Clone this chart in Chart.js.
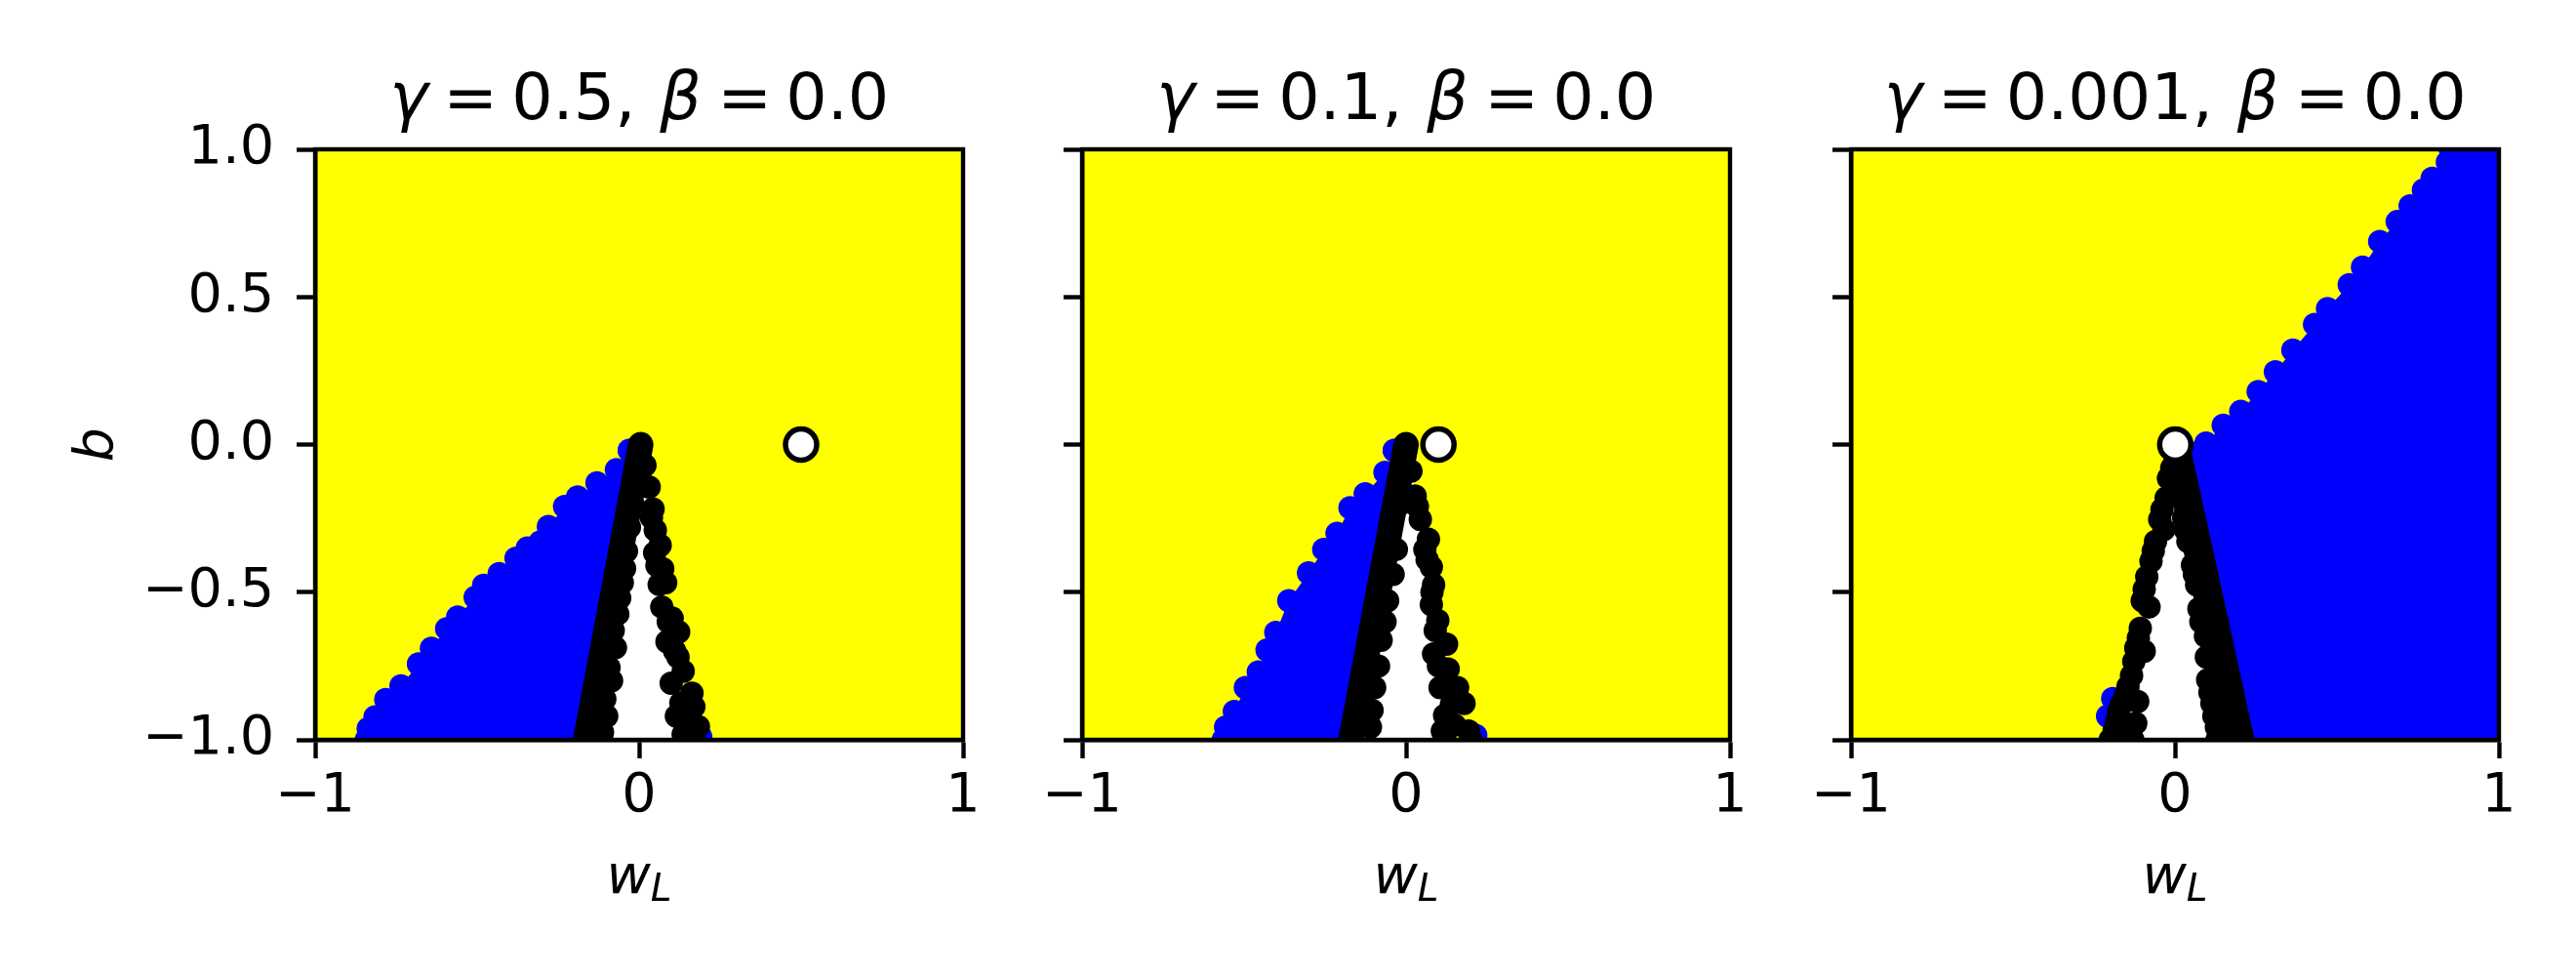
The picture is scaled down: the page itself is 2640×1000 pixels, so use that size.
<!DOCTYPE html>
<html>
<head>
<meta charset="utf-8">
<script src="https://cdn.jsdelivr.net/npm/chart.js@4.4.1/dist/chart.umd.min.js"></script>
<style>
  html, body { margin: 0; padding: 0; background: #fff; }
  #wrap { position: relative; width: 2640px; height: 1000px; }
  canvas { position: absolute; top: 0; }
</style>
</head>
<body>
<div id="wrap">
  <canvas id="c0" width="1048" height="1000" style="left:0px"></canvas>
  <canvas id="c1" width="788" height="1000" style="left:1048px"></canvas>
  <canvas id="c2" width="804" height="1000" style="left:1836px"></canvas>
</div>
<script>
// title values and the reference point of each panel
const gammaLabels = ['0.5', '0.1', '0.001'];
const betaLabels = ['0.0', '0.0', '0.0'];
const refX = [0.5, 0.1, 0.001];
const refY = [0.0, 0.0, 0.0];

// the yellow points cover the whole square
const yellowArea = [[-1, -1], [-1, 1], [1, 1], [1, -1], [-1, -1]];

// panel 1 (gamma = 0.5)
const blue1 = [[-0.03, -0.02], [-0.07, -0.085], [-0.13, -0.13], [-0.19, -0.178], [-0.23, -0.21], [-0.28, -0.278],
  [-0.305, -0.33], [-0.345, -0.35], [-0.38, -0.385], [-0.432, -0.437], [-0.48, -0.477], [-0.506, -0.517],
  [-0.56, -0.584], [-0.594, -0.624], [-0.641, -0.69], [-0.681, -0.743], [-0.735, -0.817], [-0.782, -0.864],
  [-0.815, -0.922], [-0.836, -0.962], [-0.842, -1.0], [-0.165, -1.0], [-0.03, -0.02]];
const white1 = [[0.005, 0.0], [0.03, -0.15], [0.07, -0.45], [0.14, -1.0], [-0.165, -1.0], [0.005, 0.0]];
const edge1 = [[0.005, 0.0], [-0.165, -1.0]];
const dots1 = [[0.005, -0.005], [0.018, -0.07], [0.031, -0.144], [0.043, -0.218], [0.038, -0.247], [0.05, -0.29],
  [0.065, -0.341], [0.048, -0.367], [0.055, -0.41], [0.073, -0.421], [0.082, -0.468], [0.062, -0.474],
  [0.07, -0.55], [0.102, -0.588], [0.09, -0.6], [0.122, -0.635], [0.086, -0.668], [0.11, -0.7], [0.12, -0.72],
  [0.136, -0.768], [0.099, -0.808], [0.163, -0.842], [0.129, -0.875], [0.169, -0.888], [0.115, -0.92],
  [0.149, -0.942], [0.183, -0.955], [0.136, -0.982], [0.17, -1.0], [0.14, -1.0],
  [-0.02, -0.2], [-0.03, -0.28], [-0.039, -0.361], [-0.045, -0.42], [-0.052, -0.468], [-0.06, -0.52],
  [-0.066, -0.574], [-0.08, -0.63], [-0.073, -0.688], [-0.093, -0.755], [-0.085, -0.8], [-0.106, -0.862],
  [-0.1, -0.92], [-0.113, -0.975], [-0.12, -1.0]];
const blueDots1 = [[0.19, -0.99]];

// panel 2 (gamma = 0.1)
const blue2 = [[-0.036, -0.02], [-0.065, -0.094], [-0.126, -0.167], [-0.173, -0.214], [-0.213, -0.301], [-0.254, -0.355],
  [-0.301, -0.435], [-0.362, -0.529], [-0.402, -0.636], [-0.429, -0.696], [-0.456, -0.77], [-0.496, -0.823],
  [-0.53, -0.904], [-0.557, -0.957], [-0.564, -1.0], [-0.17, -1.0], [-0.036, -0.02]];
const white2 = [[0.005, 0.0], [0.03, -0.17], [0.07, -0.45], [0.13, -1.0], [-0.17, -1.0], [0.005, 0.0]];
const edge2 = [[0.0, 0.0], [-0.17, -1.0]];
const dots2 = [[0.0, -0.005], [0.015, -0.09], [0.028, -0.174], [0.035, -0.21], [0.044, -0.254], [0.069, -0.321],
  [0.058, -0.355], [0.065, -0.39], [0.078, -0.415], [0.085, -0.475], [0.08, -0.5], [0.078, -0.542],
  [0.098, -0.596], [0.09, -0.63], [0.125, -0.676], [0.085, -0.709], [0.1, -0.75], [0.13, -0.76],
  [0.105, -0.823], [0.159, -0.823], [0.179, -0.877], [0.14, -0.88], [0.119, -0.917], [0.15, -0.95],
  [0.193, -0.97], [0.112, -0.97], [0.2, -1.0], [0.12, -1.0],
  [-0.015, -0.2], [-0.03, -0.355], [-0.04, -0.44], [-0.057, -0.529], [-0.065, -0.6], [-0.077, -0.663],
  [-0.085, -0.75], [-0.097, -0.823], [-0.105, -0.9], [-0.11, -0.957]];
const blueDots2 = [[0.215, -0.985]];

// panel 3 (gamma = 0.001)
const blue3 = [[0.01, -0.05], [0.06, -0.03], [0.096, 0.005], [0.149, 0.065], [0.203, 0.112], [0.257, 0.179],
  [0.31, 0.246], [0.364, 0.32], [0.431, 0.407], [0.471, 0.46], [0.538, 0.541], [0.579, 0.601], [0.632, 0.688],
  [0.686, 0.755], [0.726, 0.808], [0.767, 0.862], [0.794, 0.902], [0.841, 0.956], [0.85, 1.0], [1.0, 1.0],
  [1.0, -1.0], [0.2, -1.0], [0.01, -0.05]];
const white3 = [[0.005, -0.05], [0.13, -1.0], [-0.16, -1.0], [0.005, -0.05]];
const edge3 = [[0.01, -0.05], [0.2, -1.0]];
const dots3 = [[0.0, -0.06], [0.015, -0.15], [0.027, -0.248], [0.033, -0.29], [0.04, -0.328], [0.054, -0.408],
  [0.06, -0.44], [0.067, -0.475], [0.074, -0.556], [0.08, -0.6], [0.094, -0.649], [0.097, -0.72],
  [0.101, -0.797], [0.108, -0.84], [0.114, -0.877], [0.12, -0.92], [0.128, -0.957], [0.13, -1.0],
  [-0.01, -0.08], [-0.02, -0.114], [-0.027, -0.181], [-0.04, -0.22], [-0.047, -0.254], [-0.034, -0.288],
  [-0.06, -0.328], [-0.067, -0.36], [-0.074, -0.395], [-0.087, -0.448], [-0.095, -0.49], [-0.101, -0.529],
  [-0.08, -0.55], [-0.107, -0.622], [-0.113, -0.655], [-0.121, -0.689], [-0.095, -0.7], [-0.127, -0.735],
  [-0.134, -0.783], [-0.145, -0.82], [-0.154, -0.85], [-0.115, -0.87], [-0.165, -0.88], [-0.174, -0.904],
  [-0.18, -0.94], [-0.121, -0.944], [-0.188, -0.971], [-0.15, -0.97], [-0.2, -1.0], [-0.13, -1.0]];
const blueDots3 = [[-0.192, -0.86], [-0.208, -0.92]];

const panels = [
  {blue: blue1, white: white1, edge: edge1, dots: dots1, blueDots: blueDots1},
  {blue: blue2, white: white2, edge: edge2, dots: dots2, blueDots: blueDots2},
  {blue: blue3, white: white3, edge: edge3, dots: dots3, blueDots: blueDots3}
];

// where each plot box sits inside its canvas
const boxLeft = [323, 61, 61];
const padRight = [61, 63, 79];
// ink gaps between the pieces of the title, px
const titleGaps = [19, 25, 30, 25, 25];

const tickFont = {family: 'DejaVu Sans', size: 55.6};
const YELLOW = '#ffff00', BLUE = '#0000ff';
const DOT = 12;

function xy(arr) {
  return arr.map(p => ({x: p[0], y: p[1]}));
}
function minus(s) {
  return s.replace('-', '\u2212');
}

function shape(data, color, order, r) {
  return {data: xy(data), showLine: true, fill: 'shape', backgroundColor: color, borderColor: color,
    borderWidth: 0, pointRadius: r, pointBackgroundColor: color, pointBorderWidth: 0,
    pointHoverRadius: r, order: order, clip: 0};
}
function dots(data, color, order, r) {
  return {data: xy(data), showLine: false, backgroundColor: color, borderWidth: 0,
    pointRadius: r, pointHoverRadius: r, order: order, clip: 0};
}

// title, x label and y label with italic math symbols
function mathText(i) {
  return {
    id: 'mathText' + i,
    afterDraw(chart) {
      const ctx = chart.ctx, a = chart.chartArea;
      const cx = (a.left + a.right) / 2;
      ctx.save();
      ctx.fillStyle = '#000';
      ctx.textBaseline = 'alphabetic';
      ctx.textAlign = 'left';

      const pieces = [['\u03b3', true], ['=', false], [gammaLabels[i] + ',', false],
        ['\u03b2', true], ['=', false], [betaLabels[i], false]];
      const fontOf = it => (it ? 'italic ' : '') + '66.7px "DejaVu Sans"';
      const m = pieces.map(p => {
        ctx.font = fontOf(p[1]);
        return ctx.measureText(p[0]);
      });
      let w = 0;
      m.forEach((mm, k) => {
        w += mm.actualBoundingBoxLeft + mm.actualBoundingBoxRight + (k < titleGaps.length ? titleGaps[k] : 0);
      });
      let x = cx - w / 2;
      pieces.forEach((p, k) => {
        ctx.font = fontOf(p[1]);
        ctx.fillText(p[0], x + m[k].actualBoundingBoxLeft, a.top - 31);
        x += m[k].actualBoundingBoxLeft + m[k].actualBoundingBoxRight + (k < titleGaps.length ? titleGaps[k] : 0);
      });

      ctx.font = 'italic 55.6px "DejaVu Sans"';
      const ww = ctx.measureText('w').width;
      ctx.font = 'italic 39px "DejaVu Sans"';
      const lw = ctx.measureText('L').width;
      x = cx - (ww + lw) / 2;
      ctx.font = 'italic 55.6px "DejaVu Sans"';
      ctx.fillText('w', x, a.bottom + 157);
      ctx.font = 'italic 39px "DejaVu Sans"';
      ctx.fillText('L', x + ww, a.bottom + 165);

      if (i === 0) {
        ctx.translate(a.left - 208, (a.top + a.bottom) / 2);
        ctx.rotate(-Math.PI / 2);
        ctx.textAlign = 'center';
        ctx.font = 'italic 55.6px "DejaVu Sans"';
        ctx.fillText('b', 0, 0);
      }
      ctx.restore();

      // top and right spines
      ctx.save();
      ctx.strokeStyle = '#000';
      ctx.lineWidth = 4.4;
      ctx.strokeRect(a.left, a.top, a.right - a.left, a.bottom - a.top);
      ctx.restore();
    }
  };
}

panels.forEach((p, i) => {
  const ctx = document.getElementById('c' + i).getContext('2d');
  new Chart(ctx, {
    type: 'scatter',
    data: {
      datasets: [
        shape(yellowArea, YELLOW, 9, 0),
        shape(p.white, '#ffffff', 8, 0),
        shape(p.blue, BLUE, 7, DOT),
        dots(p.blueDots, BLUE, 6, DOT),
        {data: xy(p.edge), showLine: true, borderColor: '#000', borderWidth: i === 2 ? 30 : 26, borderCapStyle: 'round',
          pointRadius: 0, pointHoverRadius: 0, fill: false, order: 5, clip: 0},
        dots(p.dots, '#000', 4, DOT),
        {data: [{x: refX[i], y: refY[i]}], showLine: false, backgroundColor: '#fff', borderColor: '#000',
          borderWidth: 5.5, pointRadius: 16, pointHoverRadius: 16, order: 0}
      ]
    },
    options: {
      responsive: false,
      animation: false,
      events: [],
      layout: {padding: {left: 0, right: padRight[i], top: 153, bottom: 0}},
      plugins: {legend: {display: false}, tooltip: {enabled: false}, title: {display: false}},
      scales: {
        x: {
          type: 'linear', min: -1, max: 1,
          ticks: {stepSize: 1, font: tickFont, color: '#000', padding: 6, maxRotation: 0,
            callback: v => minus(String(v))},
          grid: {drawOnChartArea: false, drawTicks: true, tickLength: 19, tickWidth: 4.4, tickColor: '#000', z: 1},
          border: {display: true, color: '#000', width: 4.4, z: 1},
          afterFit: s => { s.height = 242; }
        },
        y: {
          type: 'linear', min: -1, max: 1,
          ticks: {stepSize: 0.5, font: tickFont, color: '#000', padding: 23,
            callback: v => i === 0 ? minus(v.toFixed(1)) : ''},
          grid: {drawOnChartArea: false, drawTicks: true, tickLength: 19, tickWidth: 4.4, tickColor: '#000', z: 1},
          border: {display: true, color: '#000', width: 4.4, z: 1},
          afterFit: s => { s.width = boxLeft[i]; }
        }
      }
    },
    plugins: [mathText(i)]
  });
});
</script>
</body>
</html>
